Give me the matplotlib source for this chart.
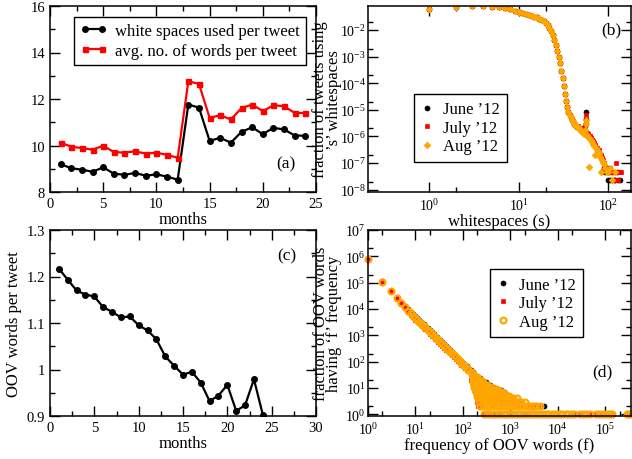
import matplotlib
matplotlib.use("Agg")
import matplotlib.pyplot as plt
from matplotlib.ticker import (LogLocator, MultipleLocator, NullFormatter,
                               FormatStrFormatter, LogFormatterSciNotation)

# ---------------- data ----------------
# (a)
months_a = list(range(1, 25))
whitespace_per_tweet = [9.20, 9.02, 8.96, 8.87, 9.06, 8.79, 8.74, 8.82, 8.70, 8.76, 8.66, 8.53,
                        11.76, 11.63, 10.20, 10.33, 10.12, 10.59, 10.78, 10.49, 10.76, 10.69, 10.43, 10.42]
words_per_tweet = [10.12, 9.95, 9.89, 9.82, 9.99, 9.72, 9.69, 9.75, 9.65, 9.69, 9.60, 9.47,
                   12.76, 12.65, 11.19, 11.30, 11.12, 11.61, 11.76, 11.48, 11.73, 11.69, 11.40, 11.40]

# (c)
months_c = list(range(1, 25))
oov_per_tweet = [1.217, 1.193, 1.170, 1.161, 1.157, 1.134, 1.124, 1.112, 1.114, 1.095, 1.084, 1.065,
                 1.028, 1.008, 0.989, 0.995, 0.972, 0.932, 0.944, 0.967, 0.911, 0.923, 0.979, 0.903]

# (b) log10(fraction of tweets) vs whitespaces s
ws_s_main = list(range(1, 46))
ws_log_main = [-1.21, -1.13, -1.11, -1.10, -1.12, -1.15, -1.18, -1.22, -1.27, -1.32,
               -1.37, -1.41, -1.44, -1.47, -1.50, -1.53, -1.57, -1.61, -1.66, -1.73,
               -1.81, -1.91, -2.03, -2.18, -2.36, -2.56, -2.78, -3.01, -3.26, -3.53,
               -3.81, -4.10, -4.39, -4.66, -4.90, -5.08, -5.20, -5.29, -5.37, -5.43,
               -5.48, -5.52, -5.56, -5.60, -5.63]
june_tail_s = [46, 48, 50, 52, 54, 55, 56, 57, 58, 60, 62, 64, 66, 68, 70, 72, 75, 78, 80, 83,
               86, 88, 90, 93, 96, 99, 102, 106, 110, 115, 120, 125, 130, 135]
june_tail_log = [-5.64, -5.70, -5.76, -5.80, -5.85, -5.60, -5.35, -5.07, -5.90, -5.96, -6.02, -6.08,
                 -6.15, -6.22, -6.30, -6.38, -6.48, -6.58, -6.65, -6.75, -6.85, -6.95, -7.17, -7.35,
                 -7.17, -7.65, -7.35, -7.65, -7.35, -7.65, -7.65, -7.35, -7.65, -7.65]
july_tail_s = [46, 48, 50, 52, 54, 55, 56, 57, 58, 60, 62, 64, 66, 68, 70, 72, 75, 78, 80, 83,
               86, 88, 90, 93, 96, 100, 104, 108, 112, 116, 120, 123, 126, 130, 135, 140]
july_tail_log = [-5.62, -5.68, -5.72, -5.78, -5.82, -5.58, -5.45, -5.20, -5.88, -5.92, -6.00, -6.05,
                 -6.12, -6.18, -6.26, -6.33, -6.42, -6.52, -6.60, -6.70, -6.80, -6.90, -7.00, -7.17,
                 -7.35, -7.35, -7.17, -7.35, -7.65, -7.35, -7.65, -7.00, -7.35, -7.65, -7.35, -7.35]
aug_tail_s = [46, 47, 48, 49, 50, 52, 54, 55, 56, 57, 58, 60, 61, 62, 64, 66, 68, 70, 72, 74,
              76, 78, 80, 82, 84, 86, 88, 90, 93, 96, 100, 105, 110, 118]
aug_tail_log = [-5.66, -5.70, -5.73, -5.76, -5.80, -5.86, -5.92, -5.75, -5.55, -5.40, -5.95, -6.02,
                -7.16, -6.08, -6.15, -6.22, -6.30, -6.38, -6.70, -6.45, -6.55, -6.62, -6.70, -6.78,
                -7.35, -6.88, -6.95, -7.05, -7.17, -7.35, -7.35, -7.17, -7.65, -7.35]

# (d) number of OOV words having frequency f
oov_f_line = [1, 2, 3, 4, 5, 6, 7, 8, 9, 10, 11, 12, 13, 14, 15, 16, 18, 20, 22, 24, 26, 28, 30,
              33, 36, 40, 44, 48, 53, 58, 64, 70, 77, 85, 93, 100, 110, 120, 130, 145, 160, 175, 190]
june_line_n = [790000, 115000, 48000, 26500, 17000, 12900, 9800, 7800, 6330, 5250, 4440, 3800, 3300,
               2890, 2560, 2290, 1850, 1540, 1300, 1110, 966, 849, 751, 632, 543, 451, 382, 327, 274,
               234, 196, 167, 142, 119, 101, 89, 75, 65, 56, 46, 39, 33, 29]
july_line_n = [720000, 105000, 44000, 24000, 15500, 11500, 7500, 5900, 4800, 3950, 3350, 2850, 2480,
               2170, 1920, 1720, 1390, 1150, 975, 830, 725, 640, 565, 475, 405, 338, 286, 245, 205,
               175, 147, 125, 106, 89, 76, 67, 56, 49, 42, 34, 29, 25, 22]
aug_line_n = [760000, 110000, 46000, 25000, 16200, 12200, 8500, 6800, 5500, 4570, 3860, 3300, 2870,
              2510, 2230, 1990, 1610, 1340, 1130, 965, 840, 740, 655, 550, 472, 392, 332, 285, 238,
              204, 170, 145, 124, 104, 88, 77, 65, 57, 49, 40, 34, 29, 25]
june_fan_f = [210, 230, 260, 300, 363, 430, 520, 620, 730, 900, 1200, 1600, 2200, 3000, 5100,
              400, 600, 1000, 24500, 130000, 700, 2000]
june_fan_n = [26, 23, 19, 16, 13, 11, 9, 8, 7, 4, 3, 2, 2, 2, 2, 1, 1, 1, 1, 1, 3, 1]
july_fan_f = [150, 160, 170, 175, 180, 185, 190, 195, 200, 205, 215, 230, 250, 280, 1150, 1300,
              1500, 1700, 300, 350, 30000, 45000, 60000, 80000, 100000, 135000, 320000, 25000,
              400, 2500, 3800]
july_fan_n = [20, 14, 10, 8, 13, 5, 6, 3, 4, 2, 3, 2, 2, 1, 4, 3, 3, 3, 1, 1, 1, 1, 1, 1, 1, 1, 1,
              1, 2, 2, 2]
aug_fan_levels = [25, 20, 16, 13, 11, 9, 8, 7, 6, 5, 4, 3, 2, 1]
aug_fan_f = [
    [165, 180, 200],
    [160, 175, 195, 215, 240],
    [165, 185, 205, 230, 260],
    [170, 190, 215, 245, 280, 320],
    [175, 200, 230, 265, 300, 345, 390],
    [180, 205, 240, 280, 325, 380, 440, 500],
    [185, 215, 250, 295, 345, 400, 470, 540],
    [190, 220, 260, 305, 360, 420, 490, 570, 650],
    [195, 230, 270, 320, 375, 440, 510, 590, 680, 760],
    [200, 240, 285, 335, 395, 460, 540, 620, 720, 830, 950],
    [210, 250, 295, 350, 410, 480, 560, 650, 760, 880, 1000, 1150, 1350],
    [220, 260, 310, 365, 430, 500, 580, 680, 790, 920, 1070, 1250, 1450, 1700, 2000],
    [230, 270, 320, 375, 440, 520, 610, 720, 840, 990, 1160, 1360, 1600, 1880, 2200, 2600, 3000,
     3500, 4100],
    [280, 320, 370, 420, 480, 550, 630, 720, 820, 940, 1080, 1240, 1420, 1630, 1870, 2140, 2450,
     2800, 3200, 3700, 4200, 4800, 5500, 6300, 7200, 8300, 9500, 11000, 12500, 14500, 16500,
     19000, 22000, 29000, 34000, 40000, 47000, 62000, 72000, 85000, 97000, 115000, 125000,
     135000, 290000, 320000, 350000],
]

month_labels = ["June \u201912", "July \u201912", "Aug \u201912"]

# ---------------- style ----------------
plt.rcParams.update({
    "font.family": "serif",
    "font.serif": ["Liberation Serif", "DejaVu Serif"],
    "mathtext.fontset": "custom",
    "mathtext.rm": "Liberation Serif",
    "mathtext.it": "Liberation Serif:italic",
    "mathtext.bf": "Liberation Serif:bold",
    "axes.linewidth": 1.1,
    "xtick.direction": "in", "ytick.direction": "in",
    "xtick.top": True, "ytick.right": True,
    "xtick.major.size": 7, "ytick.major.size": 7,
    "xtick.minor.size": 3.5, "ytick.minor.size": 3.5,
    "xtick.major.width": 1.0, "ytick.major.width": 1.0,
    "xtick.minor.width": 1.0, "ytick.minor.width": 1.0,
    "xtick.labelsize": 10.5, "ytick.labelsize": 10.5,
    "axes.labelsize": 12,
})

W, H = 632, 460
fig = plt.figure(figsize=(W / 100, H / 100), dpi=100)


def ax_px(l, t, r, b):
    return fig.add_axes([l / W, 1 - b / H, (r - l) / W, (b - t) / H])


ax_a = ax_px(50, 7, 316, 193)
ax_b = ax_px(368, 7, 631, 193)
ax_c = ax_px(50, 231, 316, 417)
ax_d = ax_px(368, 231, 631, 417)

leg_kw = dict(fancybox=False, framealpha=1, edgecolor="black", fontsize=12)

# ---- (a)
ax_a.plot(months_a, whitespace_per_tweet, "-o", color="black", lw=1.6, ms=4,
          label="white spaces used per tweet")
ax_a.plot(months_a, words_per_tweet, "-s", color="#ff0000", lw=1.6, ms=3.6,
          label="avg. no. of words per tweet")
ax_a.set_xlim(0, 25)
ax_a.set_ylim(8, 16)
ax_a.xaxis.set_major_locator(MultipleLocator(5))
ax_a.xaxis.set_minor_locator(MultipleLocator(2.5))
ax_a.yaxis.set_major_locator(MultipleLocator(2))
ax_a.yaxis.set_minor_locator(MultipleLocator(1))
ax_a.set_xlabel("months", labelpad=1)
lg = ax_a.legend(loc="upper right", bbox_to_anchor=(0.962, 0.941), borderaxespad=0,
                 numpoints=2, handlelength=1.6, handletextpad=0.5, labelspacing=0.25,
                 borderpad=0.35, **leg_kw)
lg.get_frame().set_linewidth(1.0)
ax_a.text(0.887, 0.156, "(a)", transform=ax_a.transAxes, fontsize=12.5, ha="center", va="center")

# ---- (c)
ax_c.plot(months_c, oov_per_tweet, "-o", color="black", lw=1.6, ms=4)
ax_c.set_xlim(0, 30)
ax_c.set_ylim(0.9, 1.3)
ax_c.xaxis.set_major_locator(MultipleLocator(5))
ax_c.xaxis.set_minor_locator(MultipleLocator(2.5))
ax_c.yaxis.set_major_locator(MultipleLocator(0.1))
ax_c.yaxis.set_minor_locator(MultipleLocator(0.05))
ax_c.yaxis.set_major_formatter(FormatStrFormatter("%g"))
ax_c.set_xlabel("months", labelpad=1)
ax_c.set_ylabel("OOV words per tweet", labelpad=3)
ax_c.text(0.889, 0.866, "(c)", transform=ax_c.transAxes, fontsize=12.5, ha="center", va="center")

# ---- (b)
b_styles = [dict(marker="o", color="black", ms=3.6),
            dict(marker="s", color="#ff0000", ms=3.3),
            dict(marker="D", color="#ffa500", ms=3.4)]
tails = [(june_tail_s, june_tail_log), (july_tail_s, july_tail_log), (aug_tail_s, aug_tail_log)]
for lab, st, (ts, tl) in zip(month_labels, b_styles, tails):
    xs = ws_s_main + ts
    ys = [10 ** v for v in ws_log_main + tl]
    ax_b.plot(xs, ys, ls="none", marker=st["marker"], ms=st["ms"], mfc=st["color"],
              mec=st["color"], mew=0.5, label=lab)
ax_b.set_xscale("log")
ax_b.set_yscale("log")
ax_b.set_xlim(10 ** -0.683, 10 ** 2.255)
ax_b.set_ylim(10 ** -8.09, 10 ** -1.1)
for axis in (ax_b.xaxis, ax_b.yaxis):
    axis.set_major_locator(LogLocator(base=10, numticks=30))
    axis.set_minor_locator(LogLocator(base=10, subs=[2.0], numticks=30))
    axis.set_minor_formatter(NullFormatter())
    axis.set_major_formatter(LogFormatterSciNotation())
ax_b.tick_params(axis="both", labelsize=10)
ax_b.tick_params(axis="y", pad=1.5)
ax_b.set_xlabel("whitespaces (s)", labelpad=0)
ax_b.set_ylabel("fraction of tweets using\n\u2019s\u2019 whitespaces", linespacing=0.8)
ax_b.yaxis.set_label_coords(-0.1, 0.5)
lg = ax_b.legend(loc="upper left", bbox_to_anchor=(0.175, 0.527), borderaxespad=0,
                 numpoints=1, handlelength=0.7, handletextpad=0.6, labelspacing=0.15,
                 borderpad=0.45, **leg_kw)
lg.get_frame().set_linewidth(1.0)
ax_b.text(0.924, 0.876, "(b)", transform=ax_b.transAxes, fontsize=12.5, ha="center", va="center")

# ---- (d)
line_n = [june_line_n, july_line_n, aug_line_n]
fan = [(june_fan_f, june_fan_n), (july_fan_f, july_fan_n)]
aug_ff, aug_nn = [], []
for lev, fl in zip(aug_fan_levels, aug_fan_f):
    aug_ff += fl
    aug_nn += [lev] * len(fl)
fan.append((aug_ff, aug_nn))
d_styles = [dict(marker="o", mfc="black", mec="black", ms=3.6, mew=0.5),
            dict(marker="s", mfc="#ff0000", mec="#ff0000", ms=3.4, mew=0.5),
            dict(marker="o", mfc="none", mec="#ffa500", ms=4.2, mew=1.6)]
for lab, st, ln, (ff, nn) in zip(month_labels, d_styles, line_n, fan):
    ax_d.plot(oov_f_line + ff, ln + nn, ls="none", label=lab, clip_on=False, **st)
ax_d.set_xscale("log")
ax_d.set_yscale("log")
ax_d.set_xlim(1, 10 ** 5.54)
ax_d.set_ylim(10 ** -0.07, 1e7)
for axis in (ax_d.xaxis, ax_d.yaxis):
    axis.set_major_locator(LogLocator(base=10, numticks=30))
    axis.set_minor_locator(LogLocator(base=10, subs=[2.0], numticks=30))
    axis.set_minor_formatter(NullFormatter())
    axis.set_major_formatter(LogFormatterSciNotation())
ax_d.tick_params(axis="both", labelsize=10)
ax_d.tick_params(axis="y", pad=1.5)
ax_d.set_xlabel("frequency of OOV words (f)", labelpad=0)
ax_d.set_ylabel("fraction of OOV words\nhaving \u2018f\u2019 frequency", linespacing=0.8)
ax_d.yaxis.set_label_coords(-0.097, 0.5)
lg = ax_d.legend(loc="upper left", bbox_to_anchor=(0.464, 0.79), borderaxespad=0,
                 numpoints=1, handlelength=0.7, handletextpad=0.6, labelspacing=0.15,
                 borderpad=0.45, **leg_kw)
lg.get_frame().set_linewidth(1.0)
ax_d.text(0.89, 0.242, "(d)", transform=ax_d.transAxes, fontsize=12.5, ha="center", va="center")

fig.savefig("out.png", dpi=100)
